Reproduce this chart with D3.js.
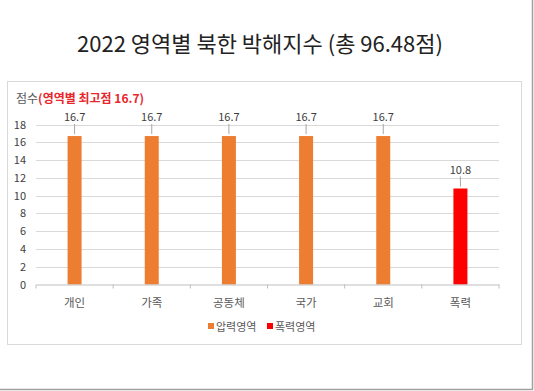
<!DOCTYPE html>
<html><head><meta charset="utf-8">
<script src="https://cdn.jsdelivr.net/npm/d3@7"></script>
<style>body{margin:0;background:#fff;font-family:"Noto Sans CJK KR","Noto Sans",sans-serif;}</style>
</head><body>
<svg id="c" width="534" height="391"></svg>
<script>
const categories = ["개인","가족","공동체","국가","교회","폭력"];
const values = [16.7,16.7,16.7,16.7,16.7,10.8];
const seriesOf = ["압력영역","압력영역","압력영역","압력영역","압력영역","폭력영역"];
const legendNames = ["압력영역","폭력영역"];
const yTicks = [0,2,4,6,8,10,12,14,16,18];
const colors = {"압력영역":"#ED7D31","폭력영역":"#FF0000"};

const svg = d3.select("#c");
const font = '"Noto Sans CJK KR","Noto Sans",sans-serif';

// outer frame
svg.append("line").attr("x1",532.5).attr("x2",532.5).attr("y1",0).attr("y2",389.5).attr("stroke","#a0a0a0").attr("stroke-width",1.5);
svg.append("line").attr("x1",0).attr("x2",533).attr("y1",389.5).attr("y2",389.5).attr("stroke","#a0a0a0").attr("stroke-width",1.5);

// chart box
svg.append("rect").attr("x",7.5).attr("y",81.5).attr("width",514).attr("height",263).attr("fill","#fff").attr("stroke","#d9d9d9");

svg.append("text").attr("x",260).attr("y",52).attr("text-anchor","middle")
  .attr("font-family",font).attr("font-size",22).attr("fill","#222").text("2022 영역별 북한 박해지수 (총 96.48점)");

const t = svg.append("text").attr("x",16).attr("y",103).attr("font-family",font).attr("font-size",12);
t.append("tspan").attr("fill","#595959").text("점수");
t.append("tspan").attr("fill","#e8262b").attr("font-weight","bold").text("(영역별 최고점 16.7)");

const x = d3.scaleBand().domain(categories).range([36,499]);
const y = d3.scaleLinear().domain([0,18]).range([284.5,124.5]);

const g = svg.append("g");
g.selectAll("line.grid").data(yTicks.filter(d=>d>0)).join("line")
  .attr("x1",36).attr("x2",499).attr("y1",d=>Math.round(y(d))+0.5).attr("y2",d=>Math.round(y(d))+0.5)
  .attr("stroke","#d9d9d9");

const ya = svg.append("g").attr("transform","translate(36,0)")
  .call(d3.axisLeft(y).tickValues(yTicks).tickSize(0).tickPadding(10));
ya.select(".domain").remove();
ya.selectAll("text").attr("font-family",font).attr("font-size",11).attr("fill","#404040");

const bw = 14;
svg.selectAll("rect.bar").data(values).join("rect")
  .attr("x",(d,i)=>x(categories[i])+x.bandwidth()/2-bw/2)
  .attr("width",bw)
  .attr("y",d=>y(d)).attr("height",d=>y(0)-y(d))
  .attr("fill",(d,i)=>colors[seriesOf[i]]);

svg.selectAll("line.lead").data(values).join("line")
  .attr("x1",(d,i)=>x(categories[i])+x.bandwidth()/2).attr("x2",(d,i)=>x(categories[i])+x.bandwidth()/2)
  .attr("y1",d=>y(d)-12).attr("y2",d=>y(d)-2).attr("stroke","#a6a6a6");

svg.selectAll("text.val").data(values).join("text")
  .attr("x",(d,i)=>x(categories[i])+x.bandwidth()/2).attr("y",d=>y(d)-15)
  .attr("text-anchor","middle").attr("font-family",font).attr("font-size",11).attr("fill","#404040")
  .text(d=>d.toFixed(1));

const xa = svg.append("g").attr("transform",`translate(0,${y(0)})`)
  .call(d3.axisBottom(x).tickSize(0).tickPadding(14));
xa.select(".domain").attr("stroke","#bfbfbf");
xa.selectAll("text").attr("font-family",font).attr("font-size",11.5).attr("fill","#595959");
// band boundary ticks
svg.selectAll("line.bt").data(categories.map(c=>x(c)).concat([x.range()[1]])).join("line")
  .attr("x1",d=>d).attr("x2",d=>d).attr("y1",y(0)).attr("y2",y(0)+4).attr("stroke","#bfbfbf");

// legend
const lg = svg.append("g");
const lx = [208,267];
legendNames.forEach((n,i)=>{
  lg.append("rect").attr("x",lx[i]).attr("y",323).attr("width",6).attr("height",6).attr("fill",colors[n]);
  lg.append("text").attr("x",lx[i]+8).attr("y",330.5).attr("font-family",font).attr("font-size",11).attr("fill","#595959").text(n);
});
</script>
</body></html>
